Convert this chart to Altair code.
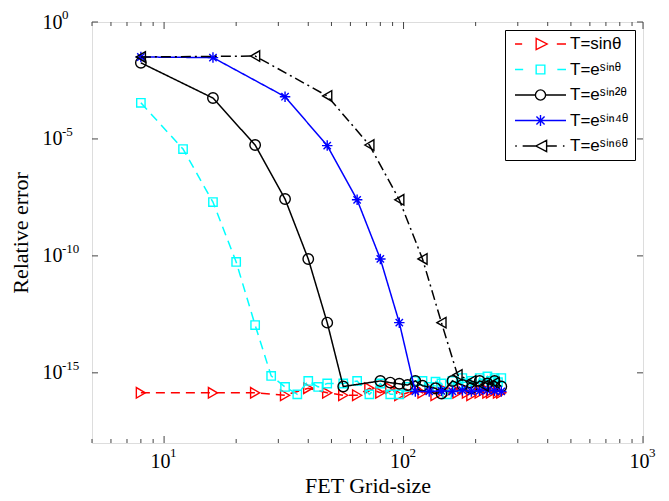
import altair as alt
import pandas as pd

# ---------------- data ----------------
series_names = ["T=sinθ", "T=eˢⁱⁿᶿ", "T=eˢⁱⁿ²ᶿ", "T=eˢⁱⁿ⁴ᶿ", "T=eˢⁱⁿ⁶ᶿ"]

red_x = [8, 16, 24, 32, 40, 48, 56, 64, 72, 80, 88, 96, 104, 112, 120, 128,
         136, 144, 152, 160, 168, 176, 184, 192, 200, 208, 216, 224, 232, 240, 248, 256]
red_y = [1.4e-16, 1.4e-16, 1.4e-16, 1.1e-16, 2.2e-16, 1.4e-16, 1.1e-16, 1.1e-16,
         2.2e-16, 1.4e-16, 2.2e-16, 1.1e-16, 1.4e-16, 2.2e-16, 1.4e-16, 2.2e-16,
         1.1e-16, 2.2e-16, 1.4e-16, 2.2e-16, 1.4e-16, 2.2e-16, 1.4e-16, 1.1e-16,
         2.2e-16, 1.4e-16, 2.2e-16, 1.4e-16, 1.4e-16, 2.2e-16, 1.4e-16, 1.4e-16]

cyan_x = [8, 12, 16, 20, 24, 28, 32, 36, 40, 44, 48, 56, 64, 72, 80, 88, 96, 104,
          112, 120, 128, 136, 144, 152, 160, 168, 176, 184, 192, 200, 208, 216,
          224, 232, 240, 248, 256]
cyan_y = [3.5e-4, 3.7e-6, 2.0e-8, 5.5e-11, 1.1e-13, 7.4e-16, 2.5e-16, 1.2e-16,
          4.5e-16, 2.5e-16, 3.5e-16, 3.5e-16, 4.5e-16, 1.2e-16, 3.5e-16, 1.2e-16,
          1.2e-16, 2.5e-16, 4.5e-16, 4.5e-16, 2.5e-16, 4.2e-16, 3.5e-16, 1.2e-16,
          4.5e-16, 2.5e-16, 6.0e-16, 3.5e-16, 4.5e-16, 2.5e-16, 6.0e-16, 3.5e-16,
          7.0e-16, 4.5e-16, 6.0e-16, 4.0e-16, 6.0e-16]

k2_x = [8, 16, 24, 32, 40, 48, 56, 80, 88, 96, 104, 112, 120, 136, 144, 160,
        176, 192, 208, 224, 240, 256]
k2_y = [1.8e-2, 5.6e-4, 5.5e-6, 2.7e-8, 7.4e-11, 1.4e-13, 2.6e-16, 4.5e-16,
        3.8e-16, 3.4e-16, 3.0e-16, 4.5e-16, 2.8e-16, 2.2e-16, 1.3e-16, 4.5e-16,
        3.0e-16, 2.2e-16, 4.5e-16, 3.5e-16, 4.5e-16, 2.6e-16]

k4_x = [8, 16, 32, 48, 64, 80, 96, 112, 128, 144, 160, 176, 192, 208, 224, 240, 256]
k4_y = [3.2e-2, 3.0e-2, 6.4e-4, 5.2e-6, 2.5e-8, 7.4e-11, 1.4e-13, 1.6e-16,
        1.6e-16, 1.7e-16, 1.6e-16, 1.8e-16, 1.6e-16, 1.7e-16, 1.8e-16, 1.7e-16, 1.6e-16]

k6_x = [8, 24, 48, 72, 96, 120, 144, 168, 192, 216, 240]
k6_y = [3.2e-2, 3.5e-2, 6.9e-4, 5.5e-6, 2.5e-8, 7.4e-11, 1.4e-13, 8.2e-16,
        4.5e-16, 2.8e-16, 3.8e-16]

x_major = [10, 100, 1000]
x_exp = ["1", "2", "3"]
x_minor = [5, 6, 7, 8, 9, 20, 30, 40, 50, 60, 70, 80, 90,
           200, 300, 400, 500, 600, 700, 800, 900]
y_major = [1, 1e-5, 1e-10, 1e-15]
y_exp = ["0", "-5", "-10", "-15"]

# ---------------- styling ----------------
colors = ["#ff0000", "#00ffff", "#000000", "#0000ff", "#000000"]
dashes = [[9, 6], [9, 6], [1, 0], [1, 0], [10, 4, 2, 4]]
marker_shapes = [
    "triangle-right",
    "square",
    "circle",
    "M0,-1L0,1M-1,0L1,0M-0.7,-0.7L0.7,0.7M-0.7,0.7L0.7,-0.7",
    "triangle-left",
]
marker_sizes = [110, 70, 110, 110, 110]
legend_paths = [
    "M-1,0L-0.72,0M0.64,0L1,0M-0.17,-0.22L0.26,0L-0.17,0.22Z",
    "M-1,0L-0.68,0M0.66,0L1,0M-0.17,-0.17L0.17,-0.17L0.17,0.17L-0.17,0.17Z",
    "M-1,0L-0.2,0M0.2,0L1,0M-0.2,0A0.2,0.2,0,1,0,0.2,0A0.2,0.2,0,1,0,-0.2,0Z",
    "M-1,0L1,0M0,-0.22L0,0.22M-0.16,-0.16L0.16,0.16M-0.16,0.16L0.16,-0.16",
    "M-0.99,0L-0.93,0M-0.7,0L-0.18,0M0.24,0L0.64,0M0.88,0L0.94,0M0.24,-0.22L-0.18,0L0.24,0.22Z",
]

xs_list = [red_x, cyan_x, k2_x, k4_x, k6_x]
ys_list = [red_y, cyan_y, k2_y, k4_y, k6_y]

rows = []
for name, xs, ys in zip(series_names, xs_list, ys_list):
    for a, b in zip(xs, ys):
        rows.append({"series": name, "grid": a, "err": b})
df = pd.DataFrame(rows)

W, H = 551, 421
SERIF = "Liberation Serif"
BASE_FS = 20
EXP_FS = 13

x_scale = alt.Scale(type="log", domain=[5, 1000], nice=False)
y_scale = alt.Scale(type="log", domain=[1e-18, 1], nice=False)

x_axis = alt.Axis(
    values=x_major, labelExpr="'10'", labelOffset=-4,
    ticks=False, domain=False, grid=False, labelFlush=False,
    labelFont=SERIF, labelFontSize=BASE_FS, labelColor="black", labelPadding=8,
    title="FET Grid-size", titleFont=SERIF, titleFontSize=22,
    titleFontWeight="normal", titleColor="black", titlePadding=4,
)
y_axis = alt.Axis(
    values=y_major, labelExpr="'10'",
    ticks=False, domain=False, grid=False,
    labelFont=SERIF, labelFontSize=BASE_FS, labelColor="black", labelPadding=30,
    title="Relative error", titleFont=SERIF, titleFontSize=22,
    titleFontWeight="normal", titleColor="black", titlePadding=10,
)

X = alt.X("grid:Q", scale=x_scale, axis=x_axis)
Y = alt.Y("err:Q", scale=y_scale, axis=y_axis)

layers = []
for i, name in enumerate(series_names):
    sub = alt.Chart(df).transform_filter(alt.datum.series == name)
    layers.append(
        sub.mark_line(color=colors[i], strokeDash=dashes[i], strokeWidth=1.5, clip=True)
        .encode(x=X, y=Y)
    )
    layers.append(
        sub.mark_point(shape=marker_shapes[i], color=colors[i], filled=False,
                       size=marker_sizes[i], strokeWidth=1.4, opacity=1, clip=True)
        .encode(x=X, y=Y)
    )

legend_def = alt.Legend(
    title=None, orient="top-right", offset=8,
    fillColor="white", strokeColor="black",
    padding=6, rowPadding=8.5, clipHeight=16,
    symbolOffset=3, labelOffset=3, symbolStrokeWidth=1.4, symbolOpacity=1,
    symbolFillColor="transparent", symbolSize=2600,
    labelFont="Liberation Sans", labelFontSize=17, labelColor="black",
)
legend_layer = alt.Chart(df).mark_point(filled=False, opacity=0, size=2600).encode(
    x=X, y=Y,
    color=alt.Color("series:N", scale=alt.Scale(domain=series_names, range=colors),
                    legend=legend_def),
    shape=alt.Shape("series:N", scale=alt.Scale(domain=series_names, range=legend_paths),
                    legend=legend_def),
)

# exponents of the tick labels (10^k), placed with the axis scales
xe = pd.DataFrame({"grid": x_major, "exp": x_exp})
ye = pd.DataFrame({"err": y_major, "exp": y_exp})
exp_layers = [
    alt.Chart(xe).mark_text(align="left", baseline="middle", font=SERIF, fontSize=EXP_FS,
                            color="black", dx=6).encode(x=X, y=alt.value(H + 10), text="exp:N"),
    alt.Chart(ye).mark_text(align="left", baseline="middle", font=SERIF, fontSize=EXP_FS,
                            color="black", dy=-7).encode(y=Y, x=alt.value(-30), text="exp:N"),
]

# inward tick marks (MATLAB style) on all four sides
xt_major = pd.DataFrame({"grid": x_major})
xt_minor = pd.DataFrame({"grid": x_minor})
yt_major = pd.DataFrame({"err": y_major})
TICK = "#444444"
tick_layers = [
    alt.Chart(xt_major).mark_rule(color=TICK, strokeWidth=1).encode(x=X, y=alt.value(H), y2=alt.value(H - 7)),
    alt.Chart(xt_minor).mark_rule(color=TICK, strokeWidth=1).encode(x=X, y=alt.value(H), y2=alt.value(H - 4)),
    alt.Chart(xt_major).mark_rule(color=TICK, strokeWidth=1).encode(x=X, y=alt.value(0), y2=alt.value(7)),
    alt.Chart(xt_minor).mark_rule(color=TICK, strokeWidth=1).encode(x=X, y=alt.value(0), y2=alt.value(4)),
    alt.Chart(yt_major).mark_rule(color=TICK, strokeWidth=1).encode(y=Y, x=alt.value(0), x2=alt.value(6)),
    alt.Chart(yt_major).mark_rule(color=TICK, strokeWidth=1).encode(y=Y, x=alt.value(W), x2=alt.value(W - 6)),
]

chart = alt.layer(*tick_layers, *layers, legend_layer, *exp_layers).properties(
    width=W, height=H, padding={"left": 1, "top": 1, "right": 5, "bottom": 5},
).configure_view(stroke="#555555", strokeWidth=1.2).configure(
    background="white"
).configure_legend(strokeWidth=1, cornerRadius=0)

chart.save("out.html", embed_options={"renderer": "svg", "actions": False})
